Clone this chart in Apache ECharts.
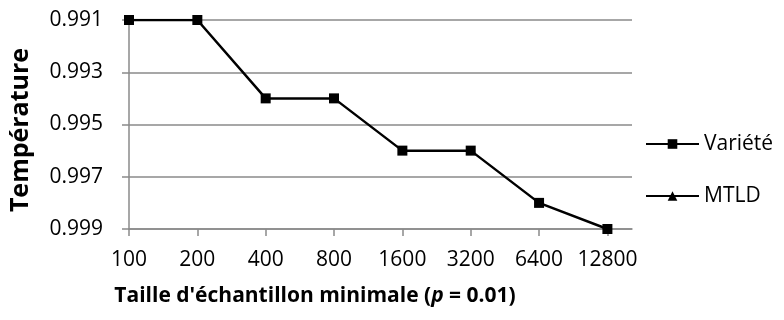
<!DOCTYPE html>
<html>
<head>
<meta charset="utf-8">
<script src="https://cdn.jsdelivr.net/npm/echarts@6/dist/echarts.min.js"></script>
<style>
  html, body { margin: 0; padding: 0; background: #fff; }
  #chart { width: 784px; height: 320px; }
</style>
</head>
<body>
<div id="chart"></div>
<script>
// Minimum sample sizes along the horizontal axis
const sampleSizes = ['100', '200', '400', '800', '1600', '3200', '6400', '12800'];
// Température reached for each minimum sample size
const varieteValues = [0.991, 0.991, 0.994, 0.994, 0.996, 0.996, 0.998, 0.999];
// MTLD has no point inside the plotted range
const mtldValues = [null, null, null, null, null, null, null, null];
// Vertical axis range and step
const yMin = 0.991;
const yMax = 0.999;
const yStep = 0.002;

const positions = sampleSizes.map((_, i) => i);
const toPairs = vals => vals.map((v, i) => [i, v]);

const FONT = '"Open Sans", "Noto Sans", sans-serif';
const GRID_GRAY = '#8a8a8a';

const chart = echarts.init(document.getElementById('chart'), null, { renderer: 'canvas' });

chart.setOption({
  animation: false,
  backgroundColor: '#ffffff',
  textStyle: { fontFamily: FONT, color: '#000' },
  grid: { left: 129, top: 20, right: 152, bottom: 91, containLabel: false },
  legend: {
    orient: 'vertical',
    left: 645,
    top: 132,
    padding: 0,
    itemWidth: 53,
    itemHeight: 12,
    itemGap: 28,
    textStyle: { fontFamily: FONT, fontSize: 21, color: '#000', lineHeight: 24 },
    data: ['Variété', 'MTLD']
  },
  xAxis: {
    type: 'value',
    min: 0,
    max: 7.36,
    interval: 1,
    name: "Taille d'échantillon minimale ({i|p} = 0.01)",
    nameLocation: 'middle',
    nameGap: 57,
    nameTextStyle: {
      fontFamily: FONT,
      fontSize: 21,
      fontWeight: 'bold',
      color: '#000',
      padding: [0, 131, 0, 0],
      rich: {
        i: { fontFamily: FONT, fontSize: 21, fontWeight: 'bold', fontStyle: 'italic', color: '#000' }
      }
    },
    axisLine: { show: true, onZero: false, lineStyle: { color: GRID_GRAY, width: 1.5 } },
    axisTick: { show: true, length: 7, customValues: positions, lineStyle: { color: GRID_GRAY, width: 1.5 } },
    axisLabel: {
      customValues: positions,
      margin: 21,
      fontFamily: FONT,
      fontSize: 21,
      color: '#000',
      formatter: v => sampleSizes[Math.round(v)]
    },
    splitLine: { show: false }
  },
  yAxis: {
    type: 'value',
    inverse: true,
    min: yMin,
    max: yMax,
    interval: yStep,
    name: 'Température',
    nameLocation: 'middle',
    nameGap: 96,
    nameTextStyle: {
      fontFamily: FONT,
      fontSize: 25,
      fontWeight: 'bold',
      color: '#000',
      padding: [0, 11, 0, 0]
    },
    axisLine: { show: true, lineStyle: { color: GRID_GRAY, width: 1.5 } },
    axisTick: { show: true, length: 7, lineStyle: { color: GRID_GRAY, width: 1.5 } },
    axisLabel: {
      margin: 26,
      fontFamily: FONT,
      fontSize: 21,
      color: '#000',
      formatter: v => v.toFixed(3)
    },
    splitLine: { show: true, lineStyle: { color: GRID_GRAY, width: 1.5 } }
  },
  series: [
    {
      name: 'Variété',
      type: 'line',
      data: toPairs(varieteValues),
      symbol: 'rect',
      symbolSize: 10,
      itemStyle: { color: '#000' },
      lineStyle: { color: '#000', width: 2.5 },
      z: 3
    },
    {
      name: 'MTLD',
      type: 'line',
      data: toPairs(mtldValues),
      symbol: 'triangle',
      symbolSize: 10,
      itemStyle: { color: '#000' },
      lineStyle: { color: '#000', width: 2.5 },
      z: 4
    }
  ]
});
</script>
</body>
</html>
